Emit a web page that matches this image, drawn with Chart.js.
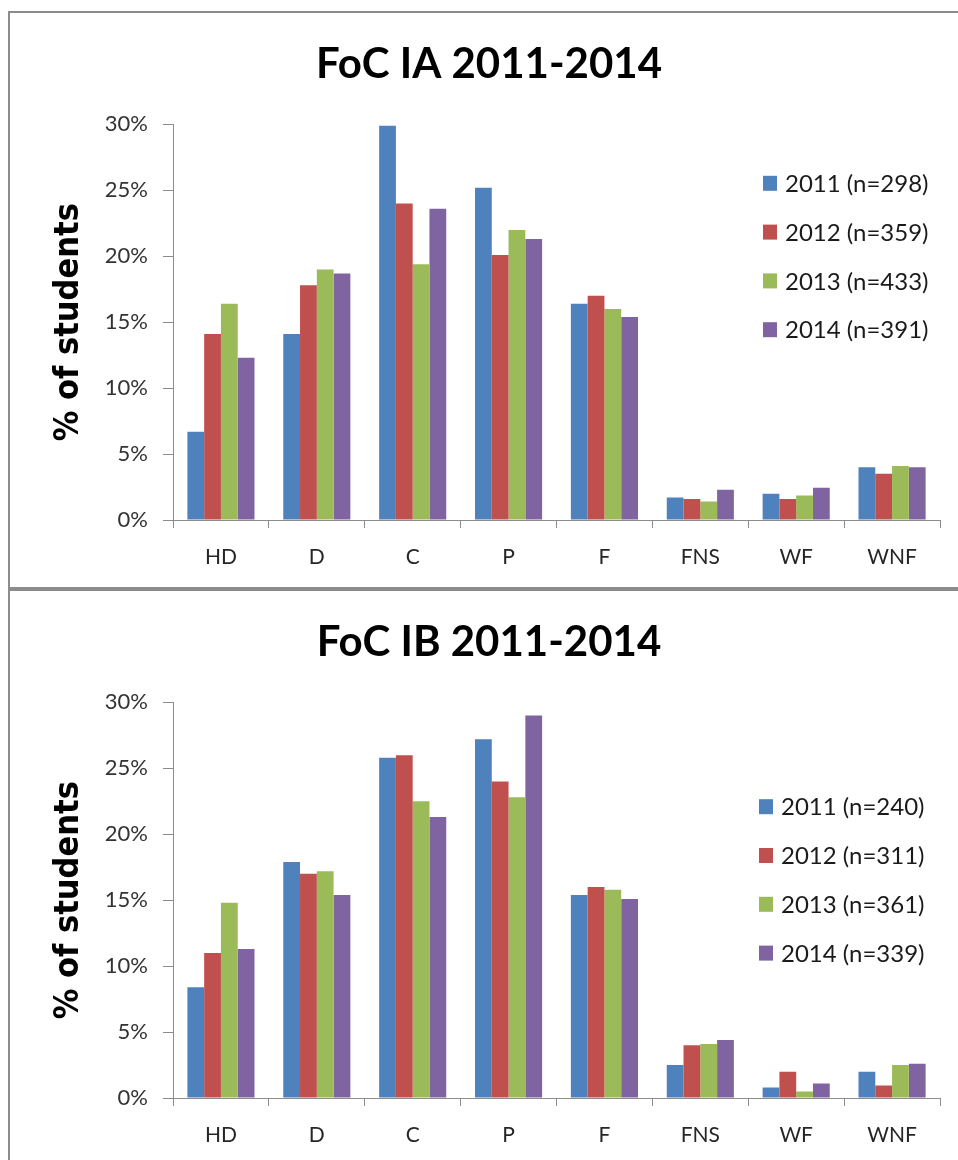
<!DOCTYPE html>
<html>
<head>
<meta charset="utf-8">
<script src="https://cdn.jsdelivr.net/npm/chart.js@4.4.1/dist/chart.umd.min.js"></script>
<style>
  html, body { margin: 0; padding: 0; background: #fff; overflow: hidden; width: 958px; height: 1160px; }
  .panel { position: absolute; left: 8px; width: 960px; box-sizing: border-box;
           border-left: 2px solid #8c8c8c; border-top: 2px solid #8c8c8c; pointer-events: none; }
  #p1 { top: 11px; height: 578px; border-bottom: 2px solid #8c8c8c; }
  #p2 { top: 589px; height: 600px; }
  .box { position: absolute; left: 10px; width: 958px; height: 576px; }
</style>
</head>
<body>
<div class="box" style="top:12px"><canvas id="chartIA"></canvas></div>
<div class="box" style="top:590px"><canvas id="chartIB"></canvas></div>
<div class="panel" id="p1"></div>
<div class="panel" id="p2"></div>
<script>
const grades = ["HD", "D", "C", "P", "F", "FNS", "WF", "WNF"];
const yTickValues = [0, 5, 10, 15, 20, 25, 30];
const colors = ["#4F81BD", "#C0504D", "#9BBB59", "#8064A2"];

const labelsIA = ["2011 (n=298)", "2012 (n=359)", "2013 (n=433)", "2014 (n=391)"];
const ia2011 = [6.7, 14.1, 29.9, 25.2, 16.4, 1.7, 2.0, 4.0];
const ia2012 = [14.1, 17.8, 24.0, 20.1, 17.0, 1.6, 1.6, 3.5];
const ia2013 = [16.4, 19.0, 19.4, 22.0, 16.0, 1.4, 1.85, 4.1];
const ia2014 = [12.3, 18.7, 23.6, 21.3, 15.4, 2.3, 2.45, 4.0];

const labelsIB = ["2011 (n=240)", "2012 (n=311)", "2013 (n=361)", "2014 (n=339)"];
const ib2011 = [8.4, 17.9, 25.8, 27.2, 15.4, 2.5, 0.8, 2.0];
const ib2012 = [11.0, 17.0, 26.0, 24.0, 16.0, 4.0, 2.0, 0.95];
const ib2013 = [14.8, 17.2, 22.5, 22.8, 15.8, 4.1, 0.5, 2.5];
const ib2014 = [11.3, 15.4, 21.3, 29.0, 15.1, 4.4, 1.1, 2.6];

// legend drawn inside the plot, like the excel original
const sideLegend = {
  id: "sideLegend",
  afterDraw(chart, args, opts) {
    const ctx = chart.ctx;
    ctx.save();
    ctx.font = "24px Lato";
    ctx.textBaseline = "middle";
    chart.data.datasets.forEach((ds, i) => {
      const y = opts.y + i * opts.gap;
      ctx.fillStyle = ds.backgroundColor;
      ctx.fillRect(opts.x, y - 7.5, 14, 15);
      ctx.fillStyle = "#1a1a1a";
      ctx.fillText(ds.label, opts.x + 22, y + 1);
    });
    ctx.restore();
  }
};

function makeChart(id, title, labels, series, legendY, legendX) {
  const datasets = series.map((vals, i) => ({
    label: labels[i],
    data: vals,
    backgroundColor: colors[i],
    borderWidth: 0,
    categoryPercentage: 0.7,
    barPercentage: 1.0
  }));

  return new Chart(document.getElementById(id), {
    type: "bar",
    data: { labels: grades, datasets: datasets },
    plugins: [sideLegend],
    options: {
      responsive: true,
      maintainAspectRatio: false,
      animation: false,
      layout: { padding: { left: 28, right: 28, top: 0, bottom: 0 } },
      plugins: {
        legend: { display: false },
        tooltip: { enabled: false },
        title: {
          display: true,
          text: title,
          color: "#000",
          font: { family: "Lato", size: 42, weight: "bold" },
          padding: { top: 27, bottom: 35 }
        },
        sideLegend: { x: legendX, y: legendY, gap: 48.8 }
      },
      scales: {
        x: {
          grid: { offset: true, drawOnChartArea: false, drawTicks: true, tickLength: 8, color: "#8c8c8c" },
          border: { color: "#8c8c8c", width: 1 },
          ticks: { color: "#262626", padding: 17, font: { family: "Lato", size: 21 } },
          afterFit: (s) => { s.height = 68; }
        },
        y: {
          min: 0,
          max: 30,
          afterBuildTicks: (s) => { s.ticks = yTickValues.map(v => ({ value: v })); },
          grid: { drawOnChartArea: false, drawTicks: true, tickLength: 10, color: "#8c8c8c" },
          border: { color: "#8c8c8c", width: 1 },
          ticks: {
            color: "#333",
            padding: 15,
            font: { family: "Lato", size: 22 },
            callback: (v) => v + "%"
          },
          title: {
            display: true,
            text: "% of students",
            color: "#000",
            font: { family: "DejaVu Sans Condensed", size: 34, weight: "bold" },
            padding: { top: 11, bottom: 0 }
          },
          afterFit: (s) => { s.width = 135; }
        }
      }
    }
  });
}

makeChart("chartIA", "FoC IA 2011-2014", labelsIA, [ia2011, ia2012, ia2013, ia2014], 171.3, 753);
makeChart("chartIB", "FoC IB 2011-2014", labelsIB, [ib2011, ib2012, ib2013, ib2014], 216.7, 749);
</script>
</body>
</html>
